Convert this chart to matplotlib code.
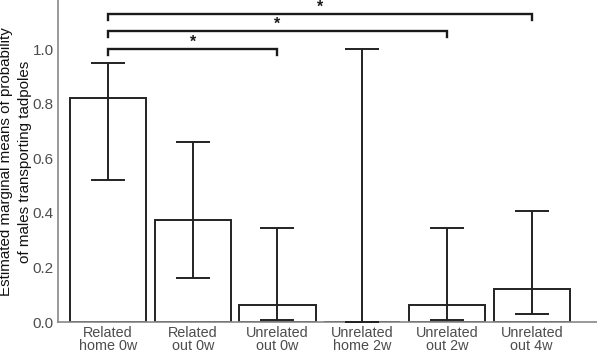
import numpy as np
import matplotlib.pyplot as plt

plt.rcParams['font.family'] = ['Liberation Sans', 'DejaVu Sans']

# data
groups = ['Related\nhome 0w', 'Related\nout 0w', 'Unrelated\nout 0w',
          'Unrelated\nhome 2w', 'Unrelated\nout 2w', 'Unrelated\nout 4w']
emmean = [0.82, 0.375, 0.063, 0.0, 0.063, 0.12]
lower = [0.52, 0.16, 0.008, 0.0, 0.008, 0.028]
upper = [0.95, 0.66, 0.345, 1.0, 0.345, 0.405]

# significance comparisons (index pairs) and bracket heights
pairs = [(0, 2), (0, 4), (0, 5)]
bracket_y = [1.0, 1.066, 1.13]
labels = ['*', '*', '*']

ylab = ['Estimated marginal means of probability', 'of males transporting tadpoles']

W, H = 597, 352
fig = plt.figure(figsize=(W / 100, H / 100), dpi=100)
ax = fig.add_axes([58 / W, 1 - 322 / H, 539 / W, 322 / H])

x = np.arange(len(groups))
ax.bar(x, emmean, width=0.9, color='white', edgecolor='#222222', linewidth=1.4, zorder=2)
ax.errorbar(x, emmean, yerr=[np.array(emmean) - np.array(lower), np.array(upper) - np.array(emmean)],
            fmt='none', ecolor='#222222', elinewidth=1.4, capsize=12.5, capthick=1.4, zorder=3)

tick_h = 0.022
for (a, b), yb, lab in zip(pairs, bracket_y, labels):
    ax.plot([a, a, b, b], [yb - tick_h, yb, yb, yb - tick_h], color='#1a1a1a', lw=1.7,
            solid_joinstyle='miter', clip_on=False)
    ax.text((a + b) / 2, yb + 0.025, lab, ha='center', va='center', fontsize=11.5,
            fontweight='bold', color='#1a1a1a')

ax.set_xlim(-0.59, 5.77)
ax.set_ylim(0, 1.18)
ax.set_xticks(x)
ax.set_xticklabels(groups, fontsize=10.4, color='#4d4d4d', linespacing=0.92)
ax.set_yticks([0, 0.2, 0.4, 0.6, 0.8, 1.0])
ax.set_yticklabels(['0.0', '0.2', '0.4', '0.6', '0.8', '1.0'], fontsize=11, color='#4d4d4d')
ax.tick_params(axis='x', length=0, pad=3)
ax.tick_params(axis='y', length=0, pad=3)

# two-line y label, placed by hand (the first line is slightly clipped in the original)
fig.text(6.5 / W, 1 - 162 / H, ylab[0], rotation=90, ha='center', va='center',
         fontsize=10.9, color='#111111')
fig.text(25.5 / W, 1 - 162 / H, ylab[1], rotation=90, ha='center', va='center',
         fontsize=10.9, color='#111111')

for s in ['top', 'right']:
    ax.spines[s].set_visible(False)
for s in ['left', 'bottom']:
    ax.spines[s].set_color('#888888')
    ax.spines[s].set_linewidth(1.2)

fig.savefig('out.png', dpi=100)
